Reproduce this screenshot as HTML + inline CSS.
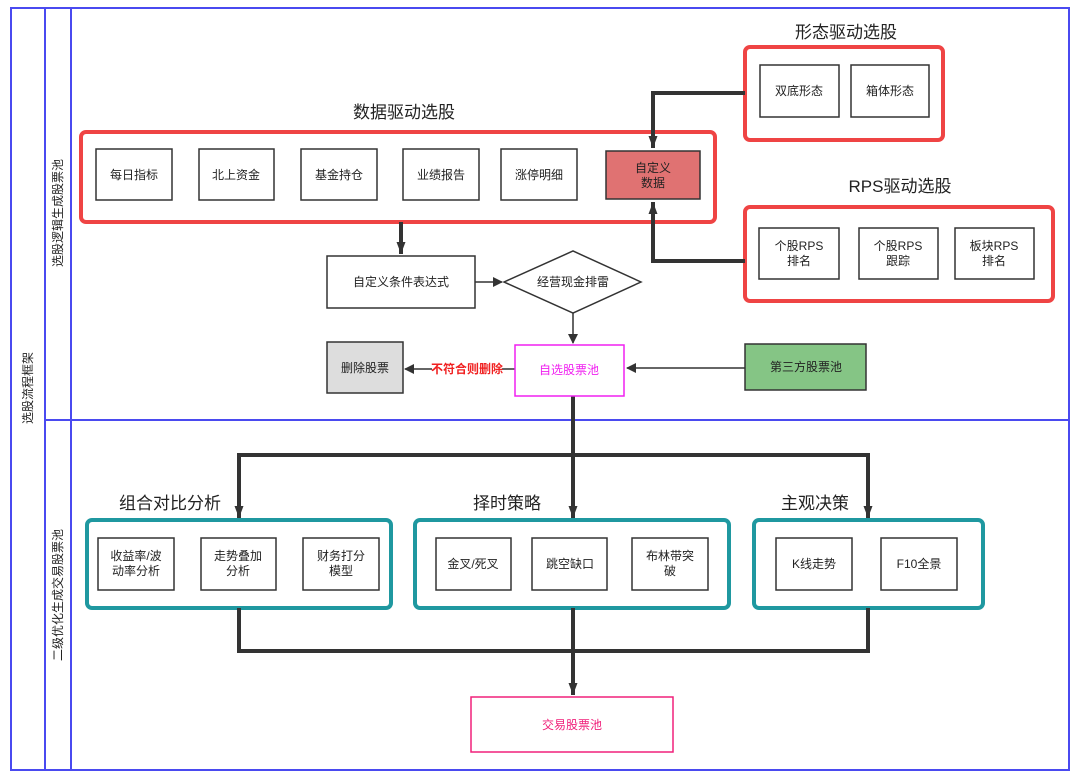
<!DOCTYPE html>
<html><head><meta charset="utf-8"><style>
html,body{margin:0;padding:0;background:#fff;}
svg{display:block;font-family:"Liberation Sans","Noto Sans CJK SC",sans-serif;}
</style></head><body>
<svg width="1080" height="776" viewBox="0 0 1080 776" xmlns="http://www.w3.org/2000/svg">
<defs>
<marker id="a" markerWidth="10" markerHeight="10" refX="9" refY="5" orient="auto" markerUnits="userSpaceOnUse"><path d="M0,0 L10,5 L0,10 z" fill="#333"/></marker>
<marker id="b" markerWidth="12" markerHeight="16" refX="16" refY="6" orient="auto" markerUnits="userSpaceOnUse" viewBox="0 0 16 12"><path d="M0,0 L16,6 L0,12 z" fill="#333"/></marker>
</defs>
<!-- frame -->
<g fill="none" stroke="#4a4af0" stroke-width="2">
<rect x="11" y="8" width="1058" height="762"/>
<line x1="45" y1="8" x2="45" y2="770"/>
<line x1="71" y1="8" x2="71" y2="770"/>
<line x1="45" y1="420" x2="1069" y2="420"/>
</g>
<g font-size="12" fill="#222" text-anchor="middle">
<text transform="translate(32,388) rotate(-90)">选股流程框架</text>
<text transform="translate(62,213) rotate(-90)">选股逻辑生成股票池</text>
<text transform="translate(62,595) rotate(-90)">二级优化生成交易股票池</text>
</g>
<!-- titles -->
<g font-size="17" fill="#222" text-anchor="middle">
<text x="404" y="118">数据驱动选股</text>
<text x="846" y="38">形态驱动选股</text>
<text x="900" y="192">RPS驱动选股</text>
<text x="170" y="509">组合对比分析</text>
<text x="507" y="509">择时策略</text>
<text x="815" y="509">主观决策</text>
</g>
<!-- group boxes -->
<g fill="none" stroke="#ef4444" stroke-width="4">
<rect x="81" y="132" width="634" height="90" rx="5"/>
<rect x="745" y="47" width="198" height="93" rx="5"/>
<rect x="745" y="207" width="308" height="94" rx="5"/>
</g>
<g fill="none" stroke="#1f98a0" stroke-width="4">
<rect x="87" y="520" width="304" height="88" rx="5"/>
<rect x="415" y="520" width="314" height="88" rx="5"/>
<rect x="754" y="520" width="229" height="88" rx="5"/>
</g>
<!-- connectors -->
<g stroke="#333" fill="none">
<path d="M745,93 H653 V148" stroke-width="4" marker-end="url(#b)"/>
<path d="M745,261 H653 V202" stroke-width="4" marker-end="url(#b)"/>
<path d="M401,222 V254" stroke-width="4" marker-end="url(#b)"/>
<path d="M475,282 H502" stroke-width="1.5" marker-end="url(#a)"/>
<path d="M573,313 V343" stroke-width="1.5" marker-end="url(#a)"/>
<path d="M745,368 H627" stroke-width="1.5" marker-end="url(#a)"/>
<path d="M515,369 H501" stroke-width="1.5"/>
<path d="M432,369 H405" stroke-width="1.5" marker-end="url(#a)"/>
<path d="M573,396 V518" stroke-width="4" marker-end="url(#b)"/>
<path d="M239,518 V455 H868 V518" stroke-width="4"/>
<path d="M239,455 V518" stroke-width="4" marker-end="url(#b)"/>
<path d="M868,455 V518" stroke-width="4" marker-end="url(#b)"/>
<path d="M239,608 V651 H868 V608" stroke-width="4"/>
<path d="M573,608 V695" stroke-width="4" marker-end="url(#b)"/>
</g>
<!-- nodes -->
<g stroke="#333" stroke-width="1.5" fill="#fff">
<rect x="96" y="149" width="76" height="51"/>
<rect x="199" y="149" width="75" height="51"/>
<rect x="301" y="149" width="76" height="51"/>
<rect x="403" y="149" width="76" height="51"/>
<rect x="501" y="149" width="76" height="51"/>
<rect x="606" y="151" width="94" height="48" fill="#e07272"/>
<rect x="760" y="65" width="79" height="52"/>
<rect x="851" y="65" width="78" height="52"/>
<rect x="759" y="228" width="80" height="51"/>
<rect x="859" y="228" width="79" height="51"/>
<rect x="955" y="228" width="79" height="51"/>
<rect x="327" y="256" width="148" height="52"/>
<polygon points="504,282 573,251 641,282 573,313"/>
<rect x="327" y="342" width="76" height="51" fill="#ddd"/>
<rect x="745" y="344" width="121" height="46" fill="#85c585"/>
<rect x="98" y="538" width="76" height="52"/>
<rect x="201" y="538" width="75" height="52"/>
<rect x="303" y="538" width="76" height="52"/>
<rect x="436" y="538" width="75" height="52"/>
<rect x="532" y="538" width="75" height="52"/>
<rect x="632" y="538" width="76" height="52"/>
<rect x="776" y="538" width="76" height="52"/>
<rect x="881" y="538" width="76" height="52"/>
</g>
<rect x="515" y="345" width="109" height="51" fill="#fff" stroke="#f020f0" stroke-width="1.5"/>
<rect x="471" y="697" width="202" height="55" fill="#fff" stroke="#f0207a" stroke-width="1.5"/>
<rect x="432" y="361" width="70" height="16" fill="#fff"/>
<!-- labels -->
<g font-size="12" fill="#222" text-anchor="middle">
<text x="134" y="179">每日指标</text>
<text x="236" y="179">北上资金</text>
<text x="339" y="179">基金持仓</text>
<text x="441" y="179">业绩报告</text>
<text x="539" y="179">涨停明细</text>
<text x="653" y="172">自定义</text>
<text x="653" y="187">数据</text>
<text x="799" y="95">双底形态</text>
<text x="890" y="95">箱体形态</text>
<text x="799" y="250">个股RPS</text><text x="799" y="265">排名</text>
<text x="898" y="250">个股RPS</text><text x="898" y="265">跟踪</text>
<text x="994" y="250">板块RPS</text><text x="994" y="265">排名</text>
<text x="401" y="286">自定义条件表达式</text>
<text x="573" y="286">经营现金排雷</text>
<text x="365" y="372">删除股票</text>
<text x="806" y="371">第三方股票池</text>
<text x="136" y="560">收益率/波</text><text x="136" y="575">动率分析</text>
<text x="238" y="560">走势叠加</text><text x="238" y="575">分析</text>
<text x="341" y="560">财务打分</text><text x="341" y="575">模型</text>
<text x="473" y="568">金叉/死叉</text>
<text x="570" y="568">跳空缺口</text>
<text x="670" y="560">布林带突</text><text x="670" y="575">破</text>
<text x="814" y="568">K线走势</text>
<text x="919" y="568">F10全景</text>
</g>
<text x="467" y="373" font-size="12" fill="#f02020" text-anchor="middle" font-weight="bold">不符合则删除</text>
<text x="569" y="374" font-size="12" fill="#f020f0" text-anchor="middle">自选股票池</text>
<text x="572" y="729" font-size="12" fill="#f0207a" text-anchor="middle">交易股票池</text>
</svg>
</body></html>
